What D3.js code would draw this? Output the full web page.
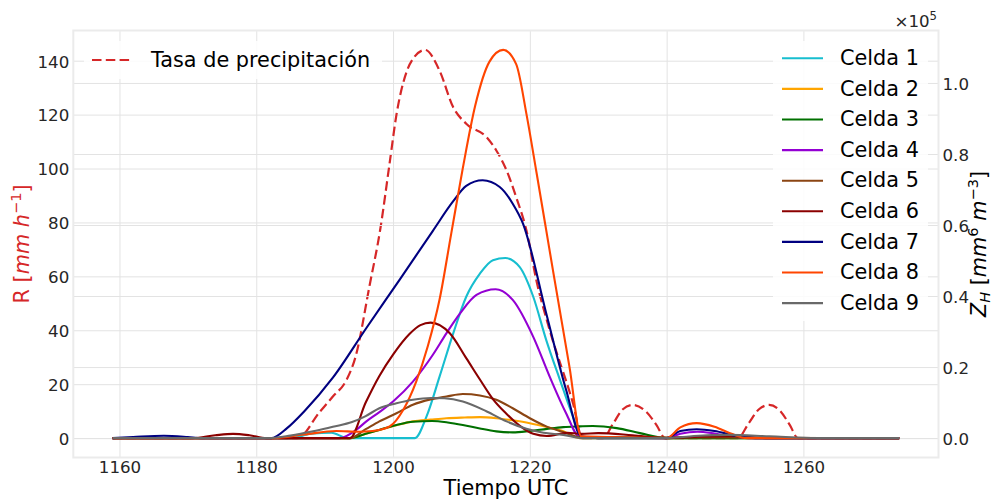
<!DOCTYPE html>
<html>
<head>
<meta charset="utf-8">
<script src="https://cdn.jsdelivr.net/npm/d3@7"></script>
<style>
  html, body { margin: 0; padding: 0; background: #fff; }
  svg { display: block; font-family: "DejaVu Sans", sans-serif; }
</style>
</head>
<body>
<svg id="chart" width="996" height="500"></svg>
<script>
// Rain rate (mm/h) over time, left axis
const tasa = [[1159,0],[1186,0],[1189.3,9.8],[1191.2,15.4],[1193.2,21.6],[1194.5,30],[1196.6,57],[1198.1,77],[1199.5,102],[1200.5,120],[1202,136],[1203,141],[1204.7,144],[1206.8,136.3],[1208.8,122.7],[1210.7,116.6],[1213.7,111.6],[1215.1,106.7],[1216.6,99.3],[1218,89.4],[1219.5,77.1],[1221,58],[1222.9,40.1],[1226.3,13],[1227.7,0],[1230.7,0],[1232.2,5.5],[1233.6,10.7],[1235.1,12.3],[1237,9.8],[1238.5,4.9],[1239.8,0],[1250.4,0],[1252,5.5],[1253.5,10.7],[1255,12.3],[1256.7,9.8],[1258,4.9],[1259.2,0],[1274,0]];

// Reflectivity Z_H (mm^6 m^-3) of each cell, right axis
const celda1 = [[1159,0],[1185,0],[1188,1200],[1191,1500],[1193.3,0],[1203.2,0],[1204.9,6100],[1206.8,17300],[1208.8,29500],[1210.7,39800],[1212.7,46300],[1214.6,50100],[1216.4,50700],[1218.5,48200],[1220.5,39800],[1222.4,27600],[1224.4,16400],[1226.3,6100],[1227.6,0],[1274,0]];
const celda2 = [[1159,0],[1193.7,0],[1196,1200],[1198,2300],[1200.5,3600],[1202.9,4700],[1205.5,5200],[1207.8,5600],[1210.5,5800],[1212.7,5900],[1215.1,5600],[1217.5,5000],[1220,4200],[1222.5,3100],[1224.9,1900],[1227.3,0],[1274,0]];
const celda3 = [[1159,0],[1193.7,0],[1196,1200],[1198,2300],[1200.5,3700],[1202.9,4600],[1205.7,4800],[1208,4400],[1210.2,3700],[1212.7,2700],[1215.1,1900],[1217.5,1600],[1220,2000],[1222.5,2600],[1224.9,3100],[1227.3,3300],[1229.2,3400],[1232.7,2800],[1236.1,1400],[1240,0],[1274,0]];
const celda4 = [[1159,0],[1192.2,0],[1194.6,2300],[1196.1,4700],[1198,7300],[1200,10300],[1202.9,15900],[1205.8,23400],[1207.8,29500],[1209.8,35100],[1212.2,40300],[1215,41900],[1217.5,38900],[1220.5,28500],[1222.9,17300],[1225.3,7000],[1227.3,300],[1240,0],[1242,1200],[1244.5,1800],[1247,1300],[1250,300],[1252,0],[1274,0]];
const celda5 = [[1159,0],[1193.7,0],[1196,2500],[1198,4700],[1200.5,7000],[1202.9,9400],[1205.5,10900],[1207.8,11700],[1210.2,12400],[1212.7,12000],[1215.1,10800],[1217.5,8400],[1220,5600],[1222.4,3300],[1224.9,1700],[1227.3,300],[1274,0]];
const celda6 = [[1159,0],[1170.7,0],[1174,800],[1176.6,1200],[1179,800],[1181.5,0],[1193.7,0],[1196,10000],[1198,17500],[1200,23500],[1202.4,29300],[1204,31800],[1205.5,32500],[1208.3,29500],[1210.7,22500],[1212.7,16500],[1214.6,11000],[1216.5,7000],[1218.5,3500],[1220.5,1200],[1222.5,600],[1225.5,1500],[1227.5,1200],[1230,1400],[1235,800],[1240,0],[1245,400],[1250,500],[1255,0],[1274,0]];
const celda7 = [[1159,0],[1162,300],[1166.5,650],[1170,300],[1172,0],[1182.2,0],[1184.5,2800],[1187,7500],[1191.2,17000],[1196.1,31000],[1201,44700],[1205.8,58300],[1208.8,66700],[1210.7,71000],[1213.1,72600],[1215.6,70700],[1217.5,66000],[1219,60400],[1222.4,35100],[1225.3,13600],[1227.5,500],[1230,0],[1240,0],[1242,2000],[1244.4,2500],[1247,2000],[1250,700],[1253,0],[1274,0]];
const celda8 = [[1159,0],[1182.5,0],[1187,1000],[1191.7,2000],[1195,1800],[1197,2000],[1199.5,3300],[1201.5,8000],[1203.4,16000],[1205.1,26000],[1206.8,39000],[1208.5,57500],[1210.2,76000],[1212,93500],[1214.1,106000],[1216.1,109300],[1218,105300],[1219.5,91300],[1221,74500],[1222.4,58500],[1223.4,47000],[1225.8,20000],[1227.5,500],[1240,0],[1242,3000],[1244.4,4200],[1247,3200],[1249.5,1200],[1251.7,0],[1274,0]];
const celda9 = [[1159,0],[1182,0],[1185,700],[1188.3,1900],[1191.2,3200],[1194,4500],[1196,6200],[1198,8400],[1200.5,9800],[1202.9,10800],[1205.5,11300],[1207.5,11200],[1210.2,10300],[1213.7,7500],[1216.6,4700],[1219.5,2600],[1222,1500],[1224.9,900],[1227.5,0],[1240,0],[1244,600],[1249,900],[1255,500],[1262,0],[1274,0]];

const cellNames = ["Celda 1","Celda 2","Celda 3","Celda 4","Celda 5","Celda 6","Celda 7","Celda 8","Celda 9"];
const cellColors = ["#17becf","#ffa500","#007000","#9400d3","#8b4513","#8b0000","#000080","#ff4500","#696969"];
const cellSeries = [celda1, celda2, celda3, celda4, celda5, celda6, celda7, celda8, celda9];

const xTicks = [1160, 1180, 1200, 1220, 1240, 1260];
const rTicks = [0, 20, 40, 60, 80, 100, 120, 140];
const zTicks = [0, 20000, 40000, 60000, 80000, 100000];

const svg = d3.select("#chart");
const plot = { left: 73.3, right: 938.5, top: 30.5, bottom: 457.5 };

// 5% padding around the data on every axis
function padded(lo, hi) { const p = (hi - lo) * 0.05; return [lo - p, hi + p]; }
const allT = tasa.concat(...cellSeries).map(d => d[0]);
const x = d3.scaleLinear().domain(padded(d3.min(allT), d3.max(allT))).range([plot.left, plot.right]);
const yR = d3.scaleLinear().domain(padded(0, d3.max(tasa, d => d[1]))).range([plot.bottom, plot.top]);
const zMax = d3.max(cellSeries.flat(), d => d[1]);
const yZ = d3.scaleLinear().domain(padded(0, zMax)).range([plot.bottom, plot.top]);

const gridColor = "#e3e3e3";
const textColor = "#262626";
const tickFont = 16.67;
const labelFont = 20.8;

// vertical + left-axis grid
const gx = svg.append("g").attr("transform", `translate(0,${plot.bottom})`)
  .call(d3.axisBottom(x).tickValues(xTicks).tickSize(-(plot.bottom - plot.top)).tickPadding(6).tickFormat(d3.format("d")));
gx.select(".domain").remove();
gx.selectAll("line").attr("stroke", gridColor).attr("stroke-width", 1);
gx.selectAll("text").attr("font-size", tickFont).attr("fill", textColor).attr("font-family", "DejaVu Sans")
  .attr("dy", "0.71em").attr("y", 3.5);

const gl = svg.append("g").attr("transform", `translate(${plot.left},0)`)
  .call(d3.axisLeft(yR).tickValues(rTicks).tickSize(-(plot.right - plot.left)).tickPadding(4).tickFormat(d3.format("d")));
gl.select(".domain").remove();
gl.selectAll("line").attr("stroke", gridColor).attr("stroke-width", 1);
gl.selectAll("text").attr("font-size", tickFont).attr("fill", textColor).attr("font-family", "DejaVu Sans")
  .attr("dy", "0.38em");

const line = d3.line().curve(d3.curveMonotoneX);

// rain rate
svg.append("path")
  .attr("d", line(tasa.map(d => [x(d[0]), yR(d[1])])))
  .attr("fill", "none").attr("stroke", "#d62728").attr("stroke-width", 2.2)
  .attr("stroke-dasharray", "9.5,4.3");

// left legend
const leg1 = svg.append("g");
leg1.append("rect").attr("x", 84).attr("y", 41).attr("width", 298).attr("height", 38).attr("rx", 4)
  .attr("fill", "#fff").attr("fill-opacity", 0.85);
leg1.append("line").attr("x1", 92).attr("x2", 133).attr("y1", 60).attr("y2", 60)
  .attr("stroke", "#d62728").attr("stroke-width", 2.2).attr("stroke-dasharray", "9.5,4.3");
leg1.append("text").attr("x", 151).attr("y", 66.7).attr("font-size", labelFont).attr("fill", "#000")
  .text("Tasa de precipitación");

// right-axis grid and ticks
const gr = svg.append("g").attr("transform", `translate(${plot.right},0)`)
  .call(d3.axisRight(yZ).tickValues(zTicks).tickSize(-(plot.right - plot.left)).tickPadding(4)
    .tickFormat(d => (d / 1e5).toFixed(1)));
gr.select(".domain").remove();
gr.selectAll("line").attr("stroke", gridColor).attr("stroke-width", 1);
gr.selectAll("text").attr("font-size", tickFont).attr("fill", textColor).attr("font-family", "DejaVu Sans")
  .attr("dy", "0.38em");

// cells
cellSeries.forEach((s, i) => {
  svg.append("path")
    .attr("d", line(s.map(d => [x(d[0]), yZ(d[1])])))
    .attr("fill", "none").attr("stroke", cellColors[i]).attr("stroke-width", 2.1)
    .attr("stroke-linejoin", "round");
});

// right legend
const leg2 = svg.append("g");
leg2.append("rect").attr("x", 773).attr("y", 41).attr("width", 155).attr("height", 280).attr("rx", 4)
  .attr("fill", "#fff").attr("fill-opacity", 0.85);
cellNames.forEach((n, i) => {
  const yy = 58.3 + i * 30.6;
  leg2.append("line").attr("x1", 782).attr("x2", 823).attr("y1", yy).attr("y2", yy)
    .attr("stroke", cellColors[i]).attr("stroke-width", 2.1);
  leg2.append("text").attr("x", 840).attr("y", yy + 6.7).attr("font-size", labelFont).attr("fill", "#000").text(n);
});

// frame
svg.append("rect").attr("x", plot.left).attr("y", plot.top)
  .attr("width", plot.right - plot.left).attr("height", plot.bottom - plot.top)
  .attr("fill", "none").attr("stroke", "#ebebeb").attr("stroke-width", 2);

// axis labels
svg.append("text").attr("x", (plot.left + plot.right) / 2).attr("y", 494.5)
  .attr("text-anchor", "middle").attr("font-size", labelFont).attr("fill", "#000").text("Tiempo UTC");

const midY = (plot.top + plot.bottom) / 2;
const lab1 = svg.append("text").attr("transform", `translate(29,${midY}) rotate(-90)`)
  .attr("text-anchor", "middle").attr("font-size", labelFont).attr("fill", "#d62728");
lab1.append("tspan").text("R [");
lab1.append("tspan").attr("font-style", "italic").text("mm h");
lab1.append("tspan").attr("font-size", labelFont * 0.7).attr("dy", -8).text("\u22121");
lab1.append("tspan").attr("dy", 8).text("]");

const lab2 = svg.append("text").attr("transform", `translate(986,${midY}) rotate(-90)`)
  .attr("text-anchor", "middle").attr("font-size", labelFont).attr("fill", "#000");
lab2.append("tspan").attr("font-style", "italic").text("Z");
lab2.append("tspan").attr("font-style", "italic").attr("font-size", labelFont * 0.7).attr("dy", 4).text("H");
lab2.append("tspan").attr("dy", -4).text(" [");
lab2.append("tspan").attr("font-style", "italic").text("mm");
lab2.append("tspan").attr("font-size", labelFont * 0.7).attr("dy", -8).text("6");
lab2.append("tspan").attr("dy", 8).attr("font-style", "italic").text(" m");
lab2.append("tspan").attr("font-size", labelFont * 0.7).attr("dy", -8).text("\u22123");
lab2.append("tspan").attr("dy", 8).text("]");

// scale multiplier of the right axis
const off = svg.append("text").attr("x", 937).attr("y", 26.7).attr("text-anchor", "end")
  .attr("font-size", tickFont).attr("fill", textColor);
off.append("tspan").text("\u00d710");
off.append("tspan").attr("font-size", tickFont * 0.7).attr("dy", -7).text("5");
</script>
</body>
</html>
